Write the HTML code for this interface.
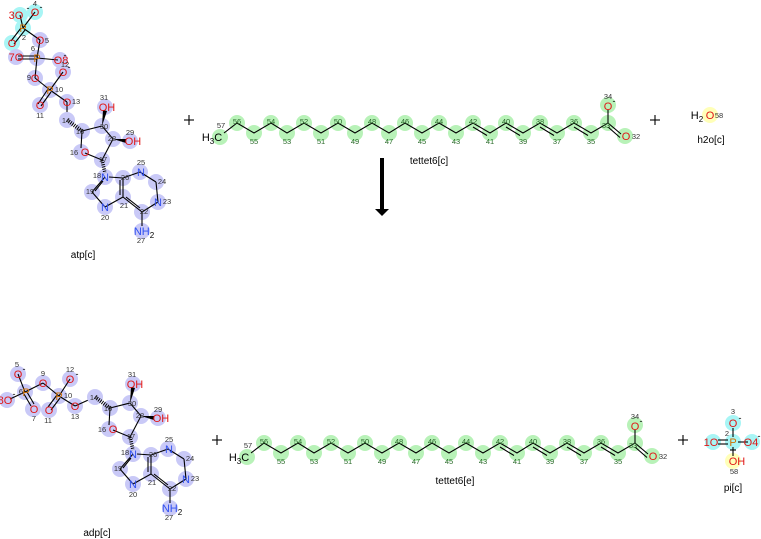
<!DOCTYPE html>
<html><head><meta charset="utf-8"><style>
html,body{margin:0;padding:0;background:#fff;}
svg{display:block;font-family:"Liberation Sans","DejaVu Sans",sans-serif;}
.b{fill:#c9c9f7}.c{fill:#a8f5f5}.g{fill:#b8f2b8}.y{fill:#ffffb8}
.O{fill:#e01818;font-size:11px}.N{fill:#3050f0;font-size:11px}.P{fill:#d07000;font-size:11px}.K{fill:#000;font-size:11px}
.n{fill:#333;font-size:7.5px}.gn{fill:#2a6a2a;font-size:7.5px}
.l{fill:#000;font-size:10px}
line,polyline{stroke:#000;stroke-width:1.1;fill:none}
</style></head><body>
<svg width="761" height="539" viewBox="0 0 761 539" xmlns="http://www.w3.org/2000/svg" text-anchor="middle">

<!-- ========== ATP phosphates ========== -->
<g>
<circle class="c" cx="20" cy="15" r="8"/><circle class="c" cx="35" cy="12" r="8"/><circle class="c" cx="23" cy="28" r="8"/><circle class="c" cx="12" cy="43" r="8"/>
<circle class="b" cx="40" cy="40" r="8"/><circle class="b" cx="37" cy="58" r="8"/><circle class="b" cx="16" cy="57" r="8"/><circle class="b" cx="60" cy="60" r="8"/>
<circle class="b" cx="35" cy="78" r="8"/><circle class="b" cx="63" cy="72" r="8"/><circle class="b" cx="50" cy="90" r="8"/><circle class="b" cx="40" cy="105" r="8"/><circle class="b" cx="67" cy="102" r="8"/>
<line x1="23" y1="28" x2="20" y2="15"/><line x1="23" y1="28" x2="35" y2="12"/><line x1="21" y1="28" x2="11" y2="41"/><line x1="25" y1="30" x2="14" y2="44"/><line x1="23" y1="28" x2="40" y2="40"/>
<line x1="40" y1="40" x2="37" y2="58"/><line x1="37" y1="56" x2="18" y2="56"/><line x1="37" y1="59" x2="18" y2="59"/><line x1="37" y1="58" x2="58" y2="60"/><line x1="37" y1="58" x2="35" y2="78"/>
<line x1="35" y1="78" x2="50" y2="90"/><line x1="50" y1="90" x2="63" y2="72"/><line x1="48" y1="89" x2="38" y2="104"/><line x1="51" y1="92" x2="41" y2="106"/><line x1="50" y1="90" x2="67" y2="102"/><line x1="67" y1="102" x2="67" y2="120"/>
<text class="O" x="16" y="19">3O</text><text class="K" x="28" y="11" style="font-size:9px">-</text>
<text class="O" x="35" y="16">O</text><text class="K" x="41" y="10" style="font-size:9px">-</text><text class="n" x="35" y="6">4</text>
<text class="P" x="23" y="32">P</text><text class="n" x="24" y="40">2</text><text class="O" x="12" y="47">O</text>
<text class="O" x="40" y="44">O</text><text class="n" x="47" y="43">5</text>
<text class="P" x="37" y="62">P</text><text class="n" x="33" y="51">6</text>
<text class="O" x="16" y="61">7O</text><text class="O" x="61" y="64">O8</text><text class="K" x="65" y="58" style="font-size:9px">-</text>
<text class="O" x="35" y="82">O</text><text class="n" x="29" y="80">9</text>
<text class="O" x="63" y="76">O</text><text class="K" x="69" y="70" style="font-size:9px">-</text><text class="n" x="65" y="67">12</text>
<text class="P" x="50" y="94">P</text><text class="n" x="59" y="92">10</text>
<text class="O" x="40" y="109">O</text><text class="n" x="40" y="118">11</text>
<text class="O" x="67" y="106">O</text><text class="n" x="76" y="104">13</text>
</g>

<!-- ========== ATP ribose + adenine ========== -->
<g id="nuc">
<circle class="b" cx="67" cy="120" r="8"/><circle class="b" cx="82" cy="131" r="8"/><circle class="b" cx="102" cy="126" r="8"/><circle class="b" cx="113" cy="139" r="8"/><circle class="b" cx="102" cy="160" r="8"/><circle class="b" cx="81" cy="152" r="8"/>
<circle class="b" cx="105" cy="107" r="8"/><circle class="b" cx="130" cy="141" r="8"/>
<circle class="b" cx="105" cy="177" r="8"/><circle class="b" cx="92" cy="192" r="8"/><circle class="b" cx="105" cy="207" r="8"/><circle class="b" cx="123" cy="197" r="8"/><circle class="b" cx="123" cy="178" r="8"/>
<circle class="b" cx="140" cy="172" r="8"/><circle class="b" cx="156" cy="182" r="8"/><circle class="b" cx="158" cy="202" r="8"/><circle class="b" cx="142" cy="212" r="8"/><circle class="b" cx="142" cy="231" r="8"/>
<line x1="67" y1="120" x2="82" y2="131" stroke-dasharray="1 1.2" style="stroke-width:4"/>
<line x1="82" y1="131" x2="102" y2="126"/><line x1="102" y1="126" x2="113" y2="139"/><line x1="113" y1="139" x2="102" y2="160"/><line x1="102" y1="160" x2="85" y2="153"/><line x1="81" y1="148" x2="82" y2="131"/>
<polygon points="102,126 103,110 107,111" fill="#000"/><polygon points="113,139 126,139 126,143" fill="#000"/>
<line x1="102" y1="160" x2="105" y2="173" stroke-dasharray="1 1.2" style="stroke-width:3.5"/>
<line x1="105" y1="177" x2="92" y2="192"/><line x1="103" y1="181" x2="95" y2="191"/><line x1="92" y1="192" x2="105" y2="207"/><line x1="105" y1="207" x2="123" y2="197"/>
<line x1="123" y1="197" x2="123" y2="178"/><line x1="120" y1="195" x2="120" y2="180"/><line x1="123" y1="178" x2="109" y2="177"/>
<line x1="123" y1="178" x2="140" y2="172"/><line x1="140" y1="172" x2="156" y2="182"/><line x1="156" y1="182" x2="158" y2="202"/><line x1="158" y1="202" x2="142" y2="212"/><line x1="142" y1="212" x2="123" y2="197"/><line x1="140" y1="208" x2="126" y2="197"/><line x1="142" y1="212" x2="142" y2="226"/>
<text class="n" x="66" y="123">14</text><text class="n" x="80" y="134">15</text><text class="n" x="104" y="129">30</text><text class="n" x="112" y="141">28</text><text class="n" x="103" y="162">17</text>
<text class="O" x="85" y="156">O</text><text class="n" x="74" y="155">16</text>
<text class="O" x="107" y="111">OH</text><text class="n" x="104" y="100">31</text>
<text class="O" x="133" y="145">OH</text><text class="n" x="130" y="135">29</text>
<text class="N" x="105" y="181">N</text><text class="n" x="97" y="178">18</text>
<text class="n" x="90" y="194">19</text>
<text class="N" x="105" y="211">N</text><text class="n" x="105" y="220">20</text>
<text class="n" x="124" y="208">21</text><text class="n" x="125" y="180">26</text>
<text class="N" x="141" y="176">N</text><text class="n" x="141" y="165">25</text>
<text class="n" x="162" y="184">24</text>
<text class="N" x="158" y="206">N</text><text class="n" x="167" y="204">23</text>
<text class="n" x="144" y="214">22</text>
<text class="N" x="144" y="235">NH<tspan class="K" style="font-size:8px" dy="3">2</tspan></text><text class="n" x="141" y="243">27</text>
</g>
<text class="l" x="83" y="258">atp[c]</text>

<!-- ========== ADP phosphates ========== -->
<g>
<circle class="b" cx="18" cy="374" r="8"/><circle class="b" cx="25" cy="392" r="8"/><circle class="b" cx="7" cy="400" r="8"/><circle class="b" cx="33" cy="409" r="8"/>
<circle class="b" cx="43" cy="383" r="8"/><circle class="b" cx="59" cy="396" r="8"/><circle class="b" cx="70" cy="379" r="8"/><circle class="b" cx="49" cy="410" r="8"/><circle class="b" cx="75" cy="406" r="8"/>
<line x1="18" y1="374" x2="25" y2="392"/><line x1="10" y1="399" x2="25" y2="392"/><line x1="24" y1="394" x2="31" y2="406"/><line x1="27" y1="392" x2="34" y2="404"/><line x1="25" y1="392" x2="43" y2="383"/>
<line x1="43" y1="383" x2="59" y2="396"/><line x1="59" y1="396" x2="70" y2="379"/><line x1="57" y1="395" x2="48" y2="407"/><line x1="60" y1="398" x2="51" y2="410"/><line x1="59" y1="396" x2="75" y2="406"/><line x1="75" y1="406" x2="95" y2="397"/>
<text class="O" x="18" y="378">O</text><text class="K" x="24" y="372" style="font-size:9px">-</text><text class="n" x="17" y="367">5</text>
<text class="P" x="26" y="396">P</text><text class="n" x="21" y="394">6</text>
<text class="O" x="5" y="404">8O</text><text class="K" x="14" y="397" style="font-size:9px">-</text>
<text class="O" x="34" y="413">O</text><text class="n" x="34" y="421">7</text>
<text class="O" x="43" y="387">O</text><text class="n" x="43" y="376">9</text>
<text class="P" x="59" y="400">P</text><text class="n" x="68" y="398">10</text>
<text class="O" x="70" y="383">O</text><text class="K" x="77" y="377" style="font-size:9px">-</text><text class="n" x="70" y="372">12</text>
<text class="O" x="49" y="414">O</text><text class="n" x="48" y="423">11</text>
<text class="O" x="75" y="410">O</text><text class="n" x="75" y="419">13</text>
</g>

<!-- ADP ribose + adenine (ATP shifted) -->
<g transform="translate(28,277)">
<circle class="b" cx="67" cy="120" r="8"/><circle class="b" cx="82" cy="131" r="8"/><circle class="b" cx="102" cy="126" r="8"/><circle class="b" cx="113" cy="139" r="8"/><circle class="b" cx="102" cy="160" r="8"/><circle class="b" cx="81" cy="152" r="8"/>
<circle class="b" cx="105" cy="107" r="8"/><circle class="b" cx="130" cy="141" r="8"/>
<circle class="b" cx="105" cy="177" r="8"/><circle class="b" cx="92" cy="192" r="8"/><circle class="b" cx="105" cy="207" r="8"/><circle class="b" cx="123" cy="197" r="8"/><circle class="b" cx="123" cy="178" r="8"/>
<circle class="b" cx="140" cy="172" r="8"/><circle class="b" cx="156" cy="182" r="8"/><circle class="b" cx="158" cy="202" r="8"/><circle class="b" cx="142" cy="212" r="8"/><circle class="b" cx="142" cy="231" r="8"/>
<line x1="67" y1="120" x2="82" y2="131" stroke-dasharray="1 1.2" style="stroke-width:4"/>
<line x1="82" y1="131" x2="102" y2="126"/><line x1="102" y1="126" x2="113" y2="139"/><line x1="113" y1="139" x2="102" y2="160"/><line x1="102" y1="160" x2="85" y2="153"/><line x1="81" y1="148" x2="82" y2="131"/>
<polygon points="102,126 103,110 107,111" fill="#000"/><polygon points="113,139 126,139 126,143" fill="#000"/>
<line x1="102" y1="160" x2="105" y2="173" stroke-dasharray="1 1.2" style="stroke-width:3.5"/>
<line x1="105" y1="177" x2="92" y2="192"/><line x1="103" y1="181" x2="95" y2="191"/><line x1="92" y1="192" x2="105" y2="207"/><line x1="105" y1="207" x2="123" y2="197"/>
<line x1="123" y1="197" x2="123" y2="178"/><line x1="120" y1="195" x2="120" y2="180"/><line x1="123" y1="178" x2="109" y2="177"/>
<line x1="123" y1="178" x2="140" y2="172"/><line x1="140" y1="172" x2="156" y2="182"/><line x1="156" y1="182" x2="158" y2="202"/><line x1="158" y1="202" x2="142" y2="212"/><line x1="142" y1="212" x2="123" y2="197"/><line x1="140" y1="208" x2="126" y2="197"/><line x1="142" y1="212" x2="142" y2="226"/>
<text class="n" x="66" y="123">14</text><text class="n" x="80" y="134">15</text><text class="n" x="104" y="129">30</text><text class="n" x="112" y="141">28</text><text class="n" x="103" y="162">17</text>
<text class="O" x="85" y="156">O</text><text class="n" x="74" y="155">16</text>
<text class="O" x="107" y="111">OH</text><text class="n" x="104" y="100">31</text>
<text class="O" x="133" y="145">OH</text><text class="n" x="130" y="135">29</text>
<text class="N" x="105" y="181">N</text><text class="n" x="97" y="178">18</text>
<text class="n" x="90" y="194">19</text>
<text class="N" x="105" y="211">N</text><text class="n" x="105" y="220">20</text>
<text class="n" x="124" y="208">21</text><text class="n" x="125" y="180">26</text>
<text class="N" x="141" y="176">N</text><text class="n" x="141" y="165">25</text>
<text class="n" x="162" y="184">24</text>
<text class="N" x="158" y="206">N</text><text class="n" x="167" y="204">23</text>
<text class="n" x="144" y="214">22</text>
<text class="N" x="144" y="235">NH<tspan class="K" style="font-size:8px" dy="3">2</tspan></text><text class="n" x="141" y="243">27</text>
</g>
<text class="l" x="97" y="536">adp[c]</text>

<!-- ========== fatty acid chain top ========== -->
<g id="chain">
<circle class="g" cx="220" cy="137" r="8"/>
<circle class="g" cx="237" cy="123" r="8"/><circle class="g" cx="254" cy="133" r="8"/><circle class="g" cx="271" cy="123" r="8"/><circle class="g" cx="287" cy="133" r="8"/>
<circle class="g" cx="304" cy="123" r="8"/><circle class="g" cx="321" cy="133" r="8"/><circle class="g" cx="338" cy="123" r="8"/><circle class="g" cx="355" cy="133" r="8"/>
<circle class="g" cx="372" cy="123" r="8"/><circle class="g" cx="389" cy="133" r="8"/><circle class="g" cx="405" cy="123" r="8"/><circle class="g" cx="422" cy="133" r="8"/>
<circle class="g" cx="439" cy="123" r="8"/><circle class="g" cx="456" cy="133" r="8"/><circle class="g" cx="473" cy="123" r="8"/><circle class="g" cx="490" cy="133" r="8"/>
<circle class="g" cx="506" cy="123" r="8"/><circle class="g" cx="523" cy="133" r="8"/><circle class="g" cx="540" cy="123" r="8"/><circle class="g" cx="557" cy="133" r="8"/>
<circle class="g" cx="574" cy="123" r="8"/><circle class="g" cx="591" cy="133" r="8"/><circle class="g" cx="608" cy="123" r="8"/>
<circle class="g" cx="608" cy="105" r="8"/><circle class="g" cx="625" cy="136" r="8"/>
<polyline points="224,133 237,123 254,133 271,123 287,133 304,123 321,133 338,123 355,133 372,123 389,133 405,123 422,133 439,123 456,133 473,123 490,133 506,123 523,133 540,123 557,133 574,123 591,133 608,123 621,134"/>
<line x1="473" y1="127" x2="487" y2="135.5"/><line x1="506" y1="127" x2="520" y2="135.5"/><line x1="540" y1="127" x2="554" y2="135.5"/><line x1="574" y1="127" x2="588" y2="135.5"/>
<line x1="608" y1="127" x2="620" y2="137.5"/><line x1="608" y1="123" x2="608" y2="110"/>
<text class="K" x="212" y="141" style="font-size:11px">H<tspan dy="3" style="font-size:8px">3</tspan><tspan dy="-3">C</tspan></text><text class="n" x="221" y="128">57</text>
<text class="gn" x="237" y="124">56</text><text class="gn" x="254" y="144">55</text><text class="gn" x="271" y="124">54</text><text class="gn" x="287" y="144">53</text>
<text class="gn" x="304" y="124">52</text><text class="gn" x="321" y="144">51</text><text class="gn" x="338" y="124">50</text><text class="gn" x="355" y="144">49</text>
<text class="gn" x="372" y="124">48</text><text class="gn" x="389" y="144">47</text><text class="gn" x="405" y="124">46</text><text class="gn" x="422" y="144">45</text>
<text class="gn" x="439" y="124">44</text><text class="gn" x="456" y="144">43</text><text class="gn" x="473" y="124">42</text><text class="gn" x="490" y="144">41</text>
<text class="gn" x="506" y="124">40</text><text class="gn" x="523" y="144">39</text><text class="gn" x="540" y="124">38</text><text class="gn" x="557" y="144">37</text>
<text class="gn" x="574" y="124">36</text><text class="gn" x="591" y="144">35</text><text class="gn" x="606" y="128">33</text>
<text class="O" x="608" y="110">O</text><text class="K" x="614" y="104" style="font-size:9px">-</text><text class="n" x="608" y="99">34</text>
<text class="O" x="626" y="140">O</text><text class="n" x="636" y="139">32</text>
</g>
<text class="l" x="429" y="164">tettet6[c]</text>

<!-- bottom chain -->
<g transform="translate(27,320)">
<circle class="g" cx="220" cy="137" r="8"/>
<circle class="g" cx="237" cy="123" r="8"/><circle class="g" cx="254" cy="133" r="8"/><circle class="g" cx="271" cy="123" r="8"/><circle class="g" cx="287" cy="133" r="8"/>
<circle class="g" cx="304" cy="123" r="8"/><circle class="g" cx="321" cy="133" r="8"/><circle class="g" cx="338" cy="123" r="8"/><circle class="g" cx="355" cy="133" r="8"/>
<circle class="g" cx="372" cy="123" r="8"/><circle class="g" cx="389" cy="133" r="8"/><circle class="g" cx="405" cy="123" r="8"/><circle class="g" cx="422" cy="133" r="8"/>
<circle class="g" cx="439" cy="123" r="8"/><circle class="g" cx="456" cy="133" r="8"/><circle class="g" cx="473" cy="123" r="8"/><circle class="g" cx="490" cy="133" r="8"/>
<circle class="g" cx="506" cy="123" r="8"/><circle class="g" cx="523" cy="133" r="8"/><circle class="g" cx="540" cy="123" r="8"/><circle class="g" cx="557" cy="133" r="8"/>
<circle class="g" cx="574" cy="123" r="8"/><circle class="g" cx="591" cy="133" r="8"/><circle class="g" cx="608" cy="123" r="8"/>
<circle class="g" cx="608" cy="105" r="8"/><circle class="g" cx="625" cy="136" r="8"/>
<polyline points="224,133 237,123 254,133 271,123 287,133 304,123 321,133 338,123 355,133 372,123 389,133 405,123 422,133 439,123 456,133 473,123 490,133 506,123 523,133 540,123 557,133 574,123 591,133 608,123 621,134"/>
<line x1="473" y1="127" x2="487" y2="135.5"/><line x1="506" y1="127" x2="520" y2="135.5"/><line x1="540" y1="127" x2="554" y2="135.5"/><line x1="574" y1="127" x2="588" y2="135.5"/>
<line x1="608" y1="127" x2="620" y2="137.5"/><line x1="608" y1="123" x2="608" y2="110"/>
<text class="K" x="212" y="141" style="font-size:11px">H<tspan dy="3" style="font-size:8px">3</tspan><tspan dy="-3">C</tspan></text><text class="n" x="221" y="128">57</text>
<text class="gn" x="237" y="124">56</text><text class="gn" x="254" y="144">55</text><text class="gn" x="271" y="124">54</text><text class="gn" x="287" y="144">53</text>
<text class="gn" x="304" y="124">52</text><text class="gn" x="321" y="144">51</text><text class="gn" x="338" y="124">50</text><text class="gn" x="355" y="144">49</text>
<text class="gn" x="372" y="124">48</text><text class="gn" x="389" y="144">47</text><text class="gn" x="405" y="124">46</text><text class="gn" x="422" y="144">45</text>
<text class="gn" x="439" y="124">44</text><text class="gn" x="456" y="144">43</text><text class="gn" x="473" y="124">42</text><text class="gn" x="490" y="144">41</text>
<text class="gn" x="506" y="124">40</text><text class="gn" x="523" y="144">39</text><text class="gn" x="540" y="124">38</text><text class="gn" x="557" y="144">37</text>
<text class="gn" x="574" y="124">36</text><text class="gn" x="591" y="144">35</text><text class="gn" x="606" y="128">33</text>
<text class="O" x="608" y="110">O</text><text class="K" x="614" y="104" style="font-size:9px">-</text><text class="n" x="608" y="99">34</text>
<text class="O" x="626" y="140">O</text><text class="n" x="636" y="139">32</text>
</g>
<text class="l" x="455" y="484">tettet6[e]</text>

<!-- water -->
<circle class="y" cx="710" cy="115" r="8"/>
<text class="K" x="697" y="119">H<tspan dy="3" style="font-size:8px">2</tspan></text><text class="O" x="710" y="119">O</text><text class="n" x="719" y="118">58</text>
<text class="l" x="711" y="143">h2o[c]</text>

<!-- pi -->
<circle class="c" cx="733" cy="423" r="8"/><circle class="c" cx="733" cy="442" r="8"/><circle class="c" cx="713" cy="442" r="8"/><circle class="c" cx="752" cy="442" r="8"/><circle class="y" cx="733" cy="461" r="8"/>
<line x1="733" y1="428" x2="733" y2="437"/><line x1="718" y1="440" x2="728" y2="440"/><line x1="718" y1="444" x2="728" y2="444"/><line x1="738" y1="442" x2="748" y2="442"/><line x1="733" y1="447" x2="733" y2="456"/><line x1="730" y1="450" x2="736" y2="450"/>
<text class="O" x="733" y="427">O</text><text class="K" x="740" y="421" style="font-size:9px">-</text><text class="n" x="733" y="414">3</text>
<text class="P" x="733" y="446">P</text><text class="n" x="727" y="436">2</text>
<text class="O" x="711" y="446">1O</text>
<text class="O" x="751" y="446">O4</text><text class="K" x="759" y="439" style="font-size:9px">-</text>
<text class="O" x="737" y="465">OH</text><text class="n" x="734" y="474">58</text>
<text class="l" x="733" y="491">pi[c]</text>

<!-- plus signs -->
<g style="stroke:#000;stroke-width:1.2">
<line x1="184" y1="120" x2="194" y2="120"/><line x1="189" y1="115" x2="189" y2="125"/>
<line x1="650" y1="120" x2="660" y2="120"/><line x1="655" y1="115" x2="655" y2="125"/>
<line x1="212" y1="440" x2="222" y2="440"/><line x1="217" y1="435" x2="217" y2="445"/>
<line x1="678" y1="440" x2="688" y2="440"/><line x1="683" y1="435" x2="683" y2="445"/>
</g>

<!-- arrow -->
<rect x="380" y="158" width="4" height="51" fill="#000"/>
<polygon points="375,209 389,209 382,216" fill="#000"/>
</svg>
</body></html>
